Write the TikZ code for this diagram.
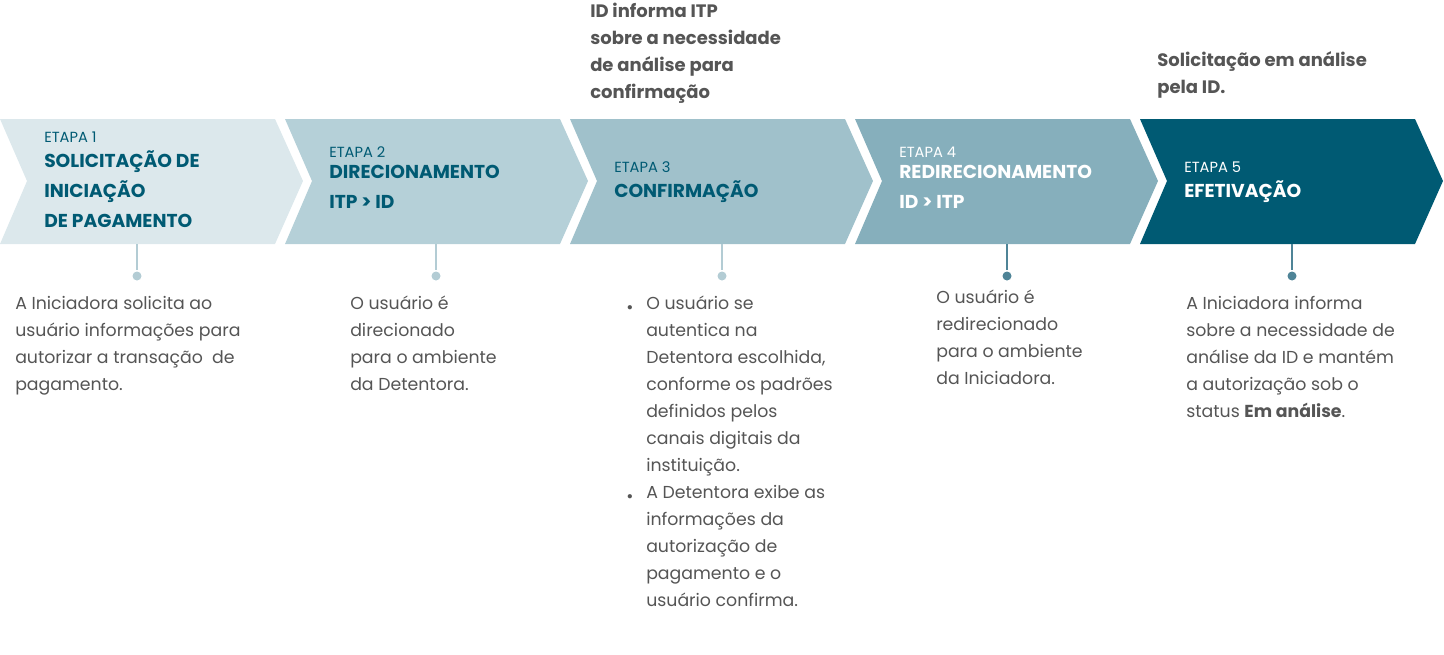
\documentclass[tikz,border=0pt]{standalone}
\usepackage{fontspec}
\setmainfont{Poppins}
\definecolor{c1}{HTML}{DCE8EC}
\definecolor{c2}{HTML}{B5D0D8}
\definecolor{c3}{HTML}{A0C1CB}
\definecolor{c4}{HTML}{86AFBC}
\definecolor{c5}{HTML}{005A73}
\definecolor{tl}{HTML}{005A73}
\definecolor{gr}{HTML}{555555}
\definecolor{sl}{HTML}{B3CCD4}
\definecolor{sd}{HTML}{4F8497}
\begin{document}
\begin{tikzpicture}[x=0.75pt,y=-0.75pt,
  body/.style={anchor=north west,inner sep=0,align=left,text=gr,font=\fontsize{13}{20.25}\selectfont},
  note/.style={anchor=north west,inner sep=0,align=left,text=gr,font=\fontsize{13.5}{20.25}\selectfont\bfseries},
  etapa/.style={anchor=west,inner sep=0,font=\fontsize{11}{13}\selectfont},
  ttl/.style={anchor=north west,inner sep=0,align=left,font=\fontsize{14}{22.5}\selectfont\bfseries}]
\useasboundingbox (0,0) rectangle (1444,654);
\foreach \i/\c in {0/c1,1/c2,2/c3,3/c4,4/c5}{
  \fill[\c] ({\i*285},119) -- ({\i*285+275},119) -- ({\i*285+303},181) -- ({\i*285+275},244) -- ({\i*285},244) -- ({\i*285+27},181) -- cycle;}
\foreach \x/\c in {137/sl,436/sl,722/sl,1007/sd,1292/sd}{
  \draw[\c,line width=1.2pt] (\x,244) -- (\x,270);
  \fill[\c] (\x,276) circle (4.5);}
\node[etapa,text=tl] (e1) at (44,137) {ETAPA 1};
\node[ttl,text=tl] (t1) at (44,150) {SOLICITAÇÃO DE\\INICIAÇÃO\\DE PAGAMENTO};
\node[etapa,text=tl] (e2) at (329,152) {ETAPA 2};
\node[ttl,text=tl] (t2) at (329,165) {DIRECIONAMENTO\\ITP > ID};
\node[etapa,text=tl] (e3) at (614,167) {ETAPA 3};
\node[ttl,text=tl] (t3) at (614,180) {CONFIRMAÇÃO};
\node[etapa,text=white] (e4) at (899,152) {ETAPA 4};
\node[ttl,text=white] (t4) at (899,165) {REDIRECIONAMENTO\\ID > ITP};
\node[etapa,text=white] (e5) at (1184,167) {ETAPA 5};
\node[ttl,text=white] (t5) at (1184,180) {EFETIVAÇÃO};
\node[note] (n3) at (590,3) {ID informa ITP\\sobre a necessidade\\de análise para\\confirmação};
\node[note] (n5) at (1157,51) {Solicitação em análise\\pela ID.};
\node[body] (b1) at (15,296) {A Iniciadora solicita ao\\usuário informações para\\autorizar a transação\ \ de\\pagamento.};
\node[body] (b2) at (350,296) {O usuário é\\direcionado\\para o ambiente\\da Detentora.};
\node[body] (b3) at (646,296) {O usuário se\\autentica na\\Detentora escolhida,\\conforme os padrões\\definidos pelos\\canais digitais da\\instituição.\\A Detentora exibe as\\informações da\\autorização de\\pagamento e o\\usuário confirma.};
\node[body,anchor=center] (d1) at (630,310) {•};
\node[body,anchor=center] (d2) at (630,499) {•};
\node[body] (b4) at (936,290) {O usuário é\\redirecionado\\para o ambiente\\da Iniciadora.};
\node[body] (b5) at (1186,296) {A Iniciadora informa\\sobre a necessidade de\\análise da ID e mantém\\a autorização sob o\\status \textbf{Em análise}.};
\end{tikzpicture}
\end{document}
